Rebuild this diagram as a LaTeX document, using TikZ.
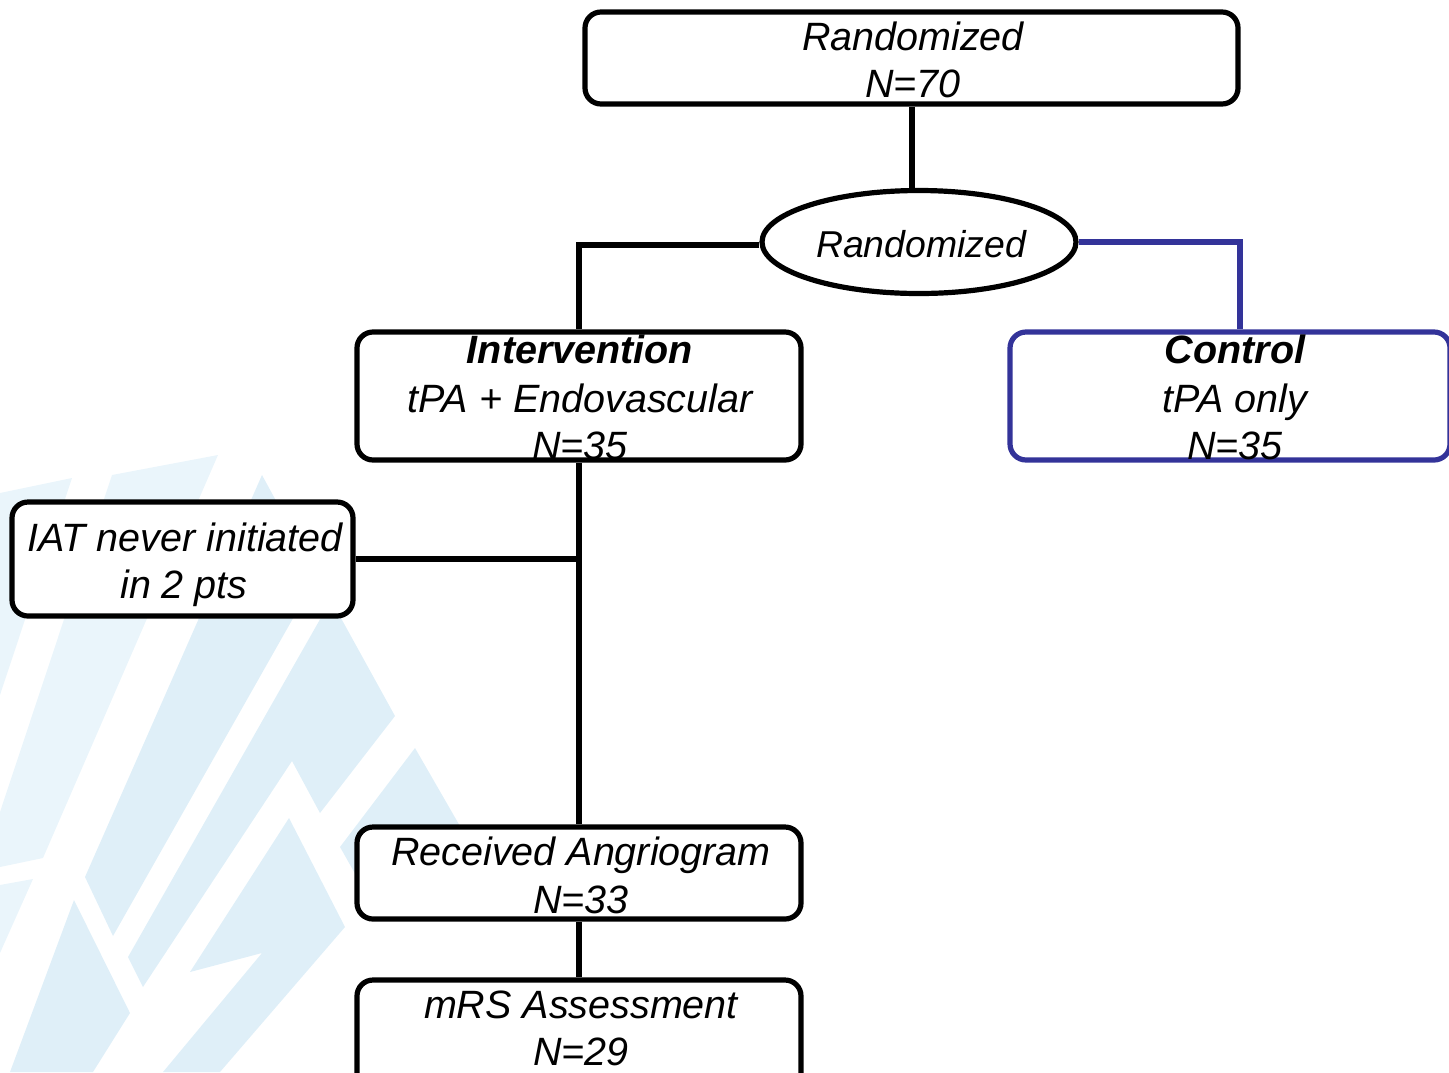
\documentclass[tikz,border=0pt]{standalone}
\usepackage{fontspec}
\setmainfont{Liberation Sans}
\usetikzlibrary{shapes.geometric}
\definecolor{paleblue}{RGB}{234,245,251}
\definecolor{lightblue}{RGB}{223,239,248}
\definecolor{ctrlblue}{RGB}{51,51,153}
\begin{document}
\begin{tikzpicture}[x=0.5pt,y=-0.5pt,
  box/.style={draw=black, line width=2.6pt, rounded corners=8pt, fill=white, inner sep=0pt},
  oval/.style={ellipse, draw=black, line width=2.6pt, fill=white, inner sep=0pt},
  txt/.style={anchor=base, inner sep=0pt, font=\fontsize{19.75}{24}\selectfont\itshape},
  btxt/.style={anchor=base, inner sep=0pt, font=\fontsize{19.75}{24}\selectfont\bfseries\itshape},
  conn/.style={line width=3pt}]
\useasboundingbox (0,0) rectangle (1449,1072);
\clip (0,0) rectangle (1449,1072);
% background watermark
\fill[paleblue] (0,493) -- (72,478) -- (0,695) -- cycle;
\fill[paleblue] (112,475) -- (218,455) -- (43,858) -- (0,867) -- (0,812) -- cycle;
\fill[paleblue] (0,885) -- (33,879) -- (0,953) -- cycle;
\fill[lightblue] (262,475) -- (317,576) -- (113,936) -- (85,877) -- cycle;
\fill[lightblue] (331,600) -- (395,716) -- (320,813) -- (292,761) -- (143,987) -- (128,957) -- cycle;
\fill[lightblue] (289,818) -- (345,927) -- (220,1072) -- (163,1072) -- (262,953) -- (190,972) -- cycle;
\fill[lightblue] (415,748) -- (468,840) -- (420,900) -- (370,900) -- (340,847) -- cycle;
\fill[lightblue] (74,900) -- (130,1013) -- (93,1072) -- (10,1072) -- cycle;
% boxes
\node[box, minimum width=326.5pt, minimum height=46pt] (top) at (911.5,58) {};
\node[oval, minimum width=157pt, minimum height=51.5pt] (rand) at (919,242) {};
\node[box, minimum width=222pt, minimum height=64pt] (interv) at (579,396) {};
\node[box, draw=ctrlblue, minimum width=220pt, minimum height=64pt] (ctrl) at (1230,396) {};
\node[box, minimum width=170.5pt, minimum height=57pt] (iat) at (182.5,559) {};
\node[box, minimum width=222pt, minimum height=46pt] (recv) at (579,873) {};
\node[box, minimum width=222pt, minimum height=55pt] (mrs) at (579,1035) {};
% connectors
\draw[conn] (top.south) -- (top.south |- rand.north);
\draw[conn, line width=3.4pt] ([yshift=-1.5pt]rand.west) -- ([yshift=-1.5pt]interv.north |- rand.west) -- (interv.north);
\draw[conn, draw=ctrlblue, line width=2.8pt] (rand.east) -| ([xshift=5pt]ctrl.north);
\draw[conn] (interv.south) -- (recv.north);
\draw[conn] (iat.east) -- (iat.east -| interv.south);
\draw[conn] (recv.south) -- (mrs.north);
% texts
\node[txt] (t1a) at (913,50) {Randomized};
\node[txt] (t1b) at (913,97) {N=70};
\node[txt, font=\fontsize{18.7}{24}\selectfont\itshape] (t2) at (921,257) {Randomized};
\node[btxt] (t3a) at (580,363) {Intervention};
\node[txt] (t3b) at (580,412) {tPA + Endovascular};
\node[txt] (t3c) at (580,459) {N=35};
\node[btxt] (t4a) at (1235,363) {Control};
\node[txt] (t4b) at (1235,412) {tPA only};
\node[txt] (t4c) at (1235,459) {N=35};
\node[txt] (t5a) at (185,551) {IAT never initiated};
\node[txt] (t5b) at (184,598) {in 2 pts};
\node[txt] (t6a) at (581,865) {Received Angriogram};
\node[txt] (t6b) at (581,913) {N=33};
\node[txt] (t7a) at (581,1018) {mRS Assessment};
\node[txt] (t7b) at (581,1065) {N=29};
\end{tikzpicture}
\end{document}
